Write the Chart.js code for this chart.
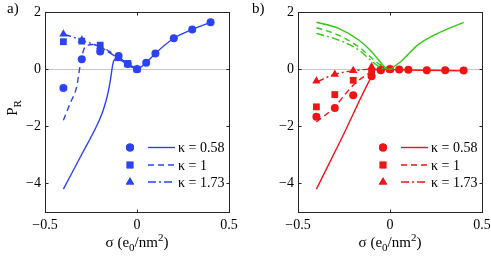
<!DOCTYPE html>
<html>
<head>
<meta charset="utf-8">
<script src="https://cdn.jsdelivr.net/npm/chart.js@4/dist/chart.umd.min.js"></script>
<style>
  body { margin: 0; background: #fff; }
  #wrap { position: relative; width: 491px; height: 258px; }
  canvas { position: absolute; top: 0; }
</style>
</head>
<body>
<div id="wrap">
  <canvas id="chartA" width="245" height="258" style="left:0"></canvas>
  <canvas id="chartB" width="246" height="258" style="left:245px"></canvas>
</div>
<script>
// sigma values where the simulation points sit
const sigmaAll = [-0.4, -0.3, -0.2, -0.1, -0.05, 0, 0.05, 0.1, 0.2, 0.3, 0.4];
const sigmaNeg = [-0.4, -0.3, -0.2, -0.1, -0.05, 0];
const kappaLabels = ['κ = 0.58', 'κ = 1', 'κ = 1.73'];
const xTicks = [-0.5, 0, 0.5];
const yTicks = [-4, -2, 0, 2];

// panel a) points
const aCircle = [-0.66, 0.35, 0.62, 0.46, 0.18, 0, 0.22, 0.55, 1.08, 1.39, 1.64];
const aSquare = [0.96, 0.98, 0.84, 0.40, 0.20, 0];
const aTriangle = [1.23, 1.02, 0.78, 0.37, 0.15, 0];
// panel a) theory curves
const aSolidX = [-0.4, -0.3, -0.22, -0.19, -0.17, -0.155, -0.145, -0.137, -0.13, -0.12, -0.1, -0.075, -0.05, -0.025, 0, 0.025, 0.05, 0.1, 0.2, 0.3, 0.4];
const aSolidY = [-4.2, -2.98, -2.0, -1.55, -1.15, -0.75, -0.4, -0.05, 0.22, 0.36, 0.43, 0.3, 0.18, 0.06, 0, 0.09, 0.22, 0.55, 1.08, 1.39, 1.64];
const aDashX = [-0.4, -0.364, -0.328, -0.31, -0.29, -0.265, -0.24, -0.2, -0.15, -0.1, -0.05, 0];
const aDashY = [-1.79, -1.2, -0.62, 0.08, 0.67, 0.84, 0.86, 0.82, 0.62, 0.42, 0.2, 0];
const aDotX = [-0.4, -0.3, -0.25, -0.2, -0.15, -0.1, -0.05, 0];
const aDotY = [1.23, 1.02, 0.9, 0.78, 0.58, 0.37, 0.15, 0];

// panel b) points
const bCircle = [-1.67, -1.36, -0.91, -0.25, -0.04, 0, -0.01, -0.02, -0.04, -0.04, -0.05];
const bSquare = [-1.32, -0.89, -0.39, -0.08, -0.02, 0];
const bTriangle = [-0.42, -0.18, -0.05, 0.08, 0.02, 0];
// panel b) red curves
const bSolidX = [-0.4, -0.268, -0.096, -0.075, -0.05, 0, 0.1, 0.2, 0.3, 0.4];
const bSolidY = [-4.2, -2.49, -0.21, 0, -0.02, -0.01, -0.03, -0.04, -0.05, -0.06];
const bDashX = [-0.4, -0.3, -0.24, -0.19, -0.13, -0.1, -0.05, 0];
const bDashY = [-1.85, -1.32, -0.85, -0.5, -0.21, -0.1, -0.02, 0];
const bDotX = [-0.4, -0.3, -0.2, -0.1, 0];
const bDotY = [-0.45, -0.18, -0.06, 0, 0];
// panel b) green curves
const gSolidX = [-0.4, -0.28, -0.17, -0.1, -0.03, -0.015, 0.005, 0.02, 0.058, 0.085, 0.15, 0.24, 0.4];
const gSolidY = [1.64, 1.43, 1.02, 0.61, 0.08, 0, 0, 0.08, 0.26, 0.43, 0.84, 1.19, 1.64];
const gDashX = [-0.4, -0.28, -0.17, -0.096, -0.04, -0.02];
const gDashY = [1.45, 1.19, 0.78, 0.37, 0.08, 0];
const gDotX = [-0.4, -0.28, -0.17, -0.096, -0.05, -0.03];
const gDotY = [1.25, 1.02, 0.67, 0.26, 0.05, 0];

const BLUE = '#2b44f3';
const RED = '#f01414';
const GREEN = '#33c814';
const FONT = "'Liberation Serif', 'DejaVu Serif', serif";
const DASH = [6, 4];
const DASHDOT = [8, 3, 2, 3];

const zip = (xs, ys) => xs.map((x, i) => ({ x: x, y: ys[i] }));

function markers(xs, ys, color, style) {
  return {
    data: zip(xs, ys), showLine: false,
    pointStyle: style, pointRadius: style === 'circle' ? 4 : 4.8,
    backgroundColor: color, borderColor: color, borderWidth: 0
  };
}
function curve(xs, ys, color, dash) {
  return {
    data: zip(xs, ys), showLine: true, pointRadius: 0,
    borderColor: color, borderWidth: 1.4, borderDash: dash,
    cubicInterpolationMode: 'monotone', fill: false
  };
}

const fmt = v => v < 0 ? '\u2212' + Math.abs(v) : String(v);

function frame(tag, tagX, legendColor) {
  return {
    id: 'frame',
    beforeDatasetsDraw(chart) {
      const { ctx, chartArea: ca, scales } = chart;
      const y0 = scales.y.getPixelForValue(0);
      ctx.save();
      ctx.strokeStyle = '#c8c8c8';
      ctx.lineWidth = 1;
      ctx.beginPath();
      ctx.moveTo(ca.left, Math.round(y0) + 0.5);
      ctx.lineTo(ca.right, Math.round(y0) + 0.5);
      ctx.stroke();
      ctx.restore();
    },
    afterDatasetsDraw(chart) {
      const { ctx, chartArea: ca, scales } = chart;
      ctx.save();
      ctx.strokeStyle = '#262626';
      ctx.lineWidth = 1;
      const L = Math.round(ca.left) + 0.5, R = Math.round(ca.right) + 0.5;
      const T = Math.round(ca.top) + 0.5, B = Math.round(ca.bottom) + 0.5;
      ctx.strokeRect(L, T, R - L, B - T);
      ctx.beginPath();
      xTicks.forEach(v => {
        const px = Math.round(scales.x.getPixelForValue(v)) + 0.5;
        ctx.moveTo(px, B); ctx.lineTo(px, B - 3);
        ctx.moveTo(px, T); ctx.lineTo(px, T + 3);
      });
      yTicks.forEach(v => {
        const py = Math.round(scales.y.getPixelForValue(v)) + 0.5;
        ctx.moveTo(L, py); ctx.lineTo(L + 3, py);
        ctx.moveTo(R, py); ctx.lineTo(R - 3, py);
      });
      ctx.stroke();
      ctx.restore();
    },
    afterDraw(chart) {
      const { ctx, chartArea: ca } = chart;
      ctx.save();
      ctx.fillStyle = '#000';
      ctx.textBaseline = 'alphabetic';
      // panel tag
      ctx.font = '15px ' + FONT;
      ctx.textAlign = 'left';
      ctx.fillText(tag, tagX, 13);
      // x title: σ (e0/nm2)
      const cx = (ca.left + ca.right) / 2, by = 247;
      const parts = [
        ['σ (e', 15, 0], ['0', 11, 4], ['/nm', 15, 0], ['2', 11, -6], [')', 15, 0]
      ];
      let w = 0;
      parts.forEach(p => { ctx.font = p[1] + 'px ' + FONT; w += ctx.measureText(p[0]).width; });
      let x = cx - w / 2;
      parts.forEach(p => {
        ctx.font = p[1] + 'px ' + FONT;
        ctx.fillText(p[0], x, by + p[2]);
        x += ctx.measureText(p[0]).width;
      });
      // y title P_R (only panel a)
      if (tag === 'a)') {
        ctx.translate(17, 108);
        ctx.rotate(-Math.PI / 2);
        ctx.font = '15px ' + FONT;
        const wp = ctx.measureText('P').width;
        ctx.font = '11px ' + FONT;
        const wr = ctx.measureText('R').width;
        const sx = -(wp + wr) / 2;
        ctx.font = '15px ' + FONT;
        ctx.fillText('P', sx, 0);
        ctx.font = '11px ' + FONT;
        ctx.fillText('R', sx + wp, 4);
        ctx.setTransform(1, 0, 0, 1, 0, 0);
      }
      // legend
      const styles = ['circle', 'rect', 'triangle'];
      const dashes = [[], DASH, DASHDOT];
      const rows = [147.5, 165, 182];
      rows.forEach((ry, i) => {
        const mx = ca.left + 85;
        ctx.fillStyle = legendColor;
        ctx.strokeStyle = legendColor;
        Chart.helpers.drawPoint(ctx, {
          pointStyle: styles[i], radius: i === 0 ? 4 : 4.8, borderWidth: 0, rotation: 0
        }, mx, ry);
        ctx.fill();
        ctx.beginPath();
        ctx.setLineDash(dashes[i]);
        ctx.lineWidth = 1.4;
        ctx.moveTo(ca.left + 103, ry);
        ctx.lineTo(ca.left + 130, ry);
        ctx.stroke();
        ctx.setLineDash([]);
        ctx.fillStyle = '#000';
        ctx.font = '14px ' + FONT;
        ctx.textAlign = 'left';
        ctx.textBaseline = 'middle';
        ctx.fillText(kappaLabels[i], ca.left + 133, ry + 1);
        ctx.textBaseline = 'alphabetic';
      });
      ctx.restore();
    }
  };
}

function options(yWidth, rightPad) {
  return {
    responsive: false,
    animation: false,
    devicePixelRatio: 1,
    layout: { padding: { top: 12, right: rightPad, left: 0, bottom: 0 } },
    plugins: { legend: { display: false }, tooltip: { enabled: false } },
    scales: {
      x: {
        type: 'linear', min: -0.5, max: 0.5,
        grid: { display: false, drawTicks: false },
        border: { display: false },
        afterBuildTicks: s => { s.ticks = xTicks.map(v => ({ value: v })); },
        afterFit: s => { s.height = 46; s.paddingLeft = 0; s.paddingRight = 0; },
        ticks: {
          padding: 5, maxRotation: 0, autoSkip: false, color: '#000',
          font: { family: FONT, size: 14 }, callback: fmt
        }
      },
      y: {
        type: 'linear', min: -5, max: 2,
        grid: { display: false, drawTicks: false },
        border: { display: false },
        afterBuildTicks: s => { s.ticks = yTicks.map(v => ({ value: v })); },
        afterFit: s => { s.width = yWidth; s.paddingTop = 0; s.paddingBottom = 0; },
        ticks: {
          padding: 4, color: '#000',
          font: { family: FONT, size: 14 }, callback: fmt
        }
      }
    }
  };
}

new Chart(document.getElementById('chartA'), {
  type: 'scatter',
  data: {
    datasets: [
      curve(aSolidX, aSolidY, BLUE, []),
      curve(aDashX, aDashY, BLUE, DASH),
      curve(aDotX, aDotY, BLUE, DASHDOT),
      markers(sigmaNeg, aSquare, BLUE, 'rect'),
      markers(sigmaNeg, aTriangle, BLUE, 'triangle'),
      markers(sigmaAll, aCircle, BLUE, 'circle')
    ]
  },
  options: options(45, 16),
  plugins: [frame('a)', 7, BLUE)]
});

new Chart(document.getElementById('chartB'), {
  type: 'scatter',
  data: {
    datasets: [
      curve(gSolidX, gSolidY, GREEN, []),
      curve(gDashX, gDashY, GREEN, DASH),
      curve(gDotX, gDotY, GREEN, DASHDOT),
      curve(bSolidX, bSolidY, RED, []),
      curve(bDashX, bDashY, RED, DASH),
      curve(bDotX, bDotY, RED, DASHDOT),
      markers(sigmaNeg, bSquare, RED, 'rect'),
      markers(sigmaNeg, bTriangle, RED, 'triangle'),
      markers(sigmaAll, bCircle, RED, 'circle')
    ]
  },
  options: options(53, 9),
  plugins: [frame('b)', 7, RED)]
});
</script>
</body>
</html>
